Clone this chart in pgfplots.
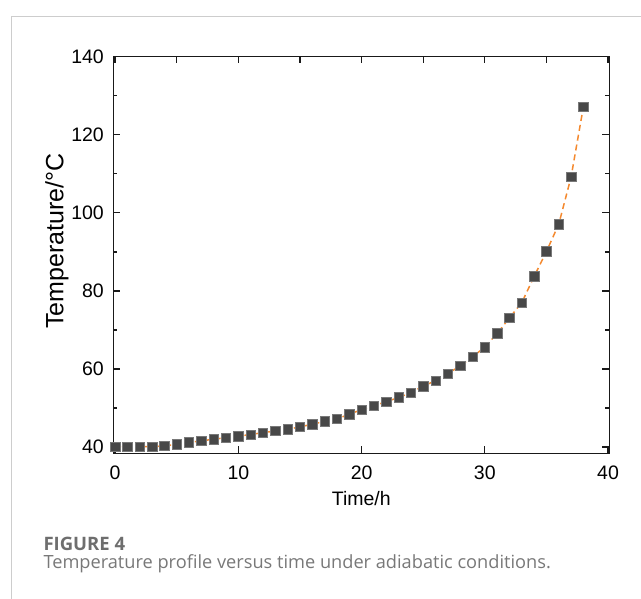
\documentclass[border=0pt]{standalone}
\usepackage{pgfplots}
\pgfplotsset{compat=1.18}
\usepackage{fontspec}
\setmainfont{Liberation Sans}
\newfontfamily\capfont{Open Sans}
\definecolor{framegray}{RGB}{205,205,205}
\definecolor{capgray}{RGB}{110,110,110}
\definecolor{captext}{RGB}{120,120,120}
\definecolor{mkfill}{RGB}{72,72,72}
\definecolor{mkedge}{RGB}{120,120,120}
\definecolor{dashorange}{RGB}{244,137,46}
\pgfplotstableread{
t T
0 40.1
1 40.1
2 40.1
3 40.1
4 40.3
5 40.7
6 41.2
7 41.6
8 42.0
9 42.4
10 42.8
11 43.2
12 43.7
13 44.1
14 44.5
15 45.2
16 45.8
17 46.6
18 47.2
19 48.4
20 49.6
21 50.6
22 51.6
23 52.7
24 53.9
25 55.6
26 57.0
27 58.8
28 60.8
29 63.1
30 65.6
31 69.1
32 73.1
33 77.0
34 83.7
35 90.1
36 97.1
37 109.2
38 127.2
}\datatable
\begin{document}
\begin{tikzpicture}[x=1pt,y=1pt]
\useasboundingbox (0,0) rectangle (641,599);
\draw[framegray, line width=1pt] (11.5,0) -- (11.5,582.5) -- (641,582.5);
\begin{axis}[
  at={(113.3pt,145.7pt)}, anchor=south west,
  scale only axis, width=496pt, height=396.6pt,
  xmin=-0.15, xmax=40.1, ymin=38.4, ymax=140,
  axis line style={line width=1.4pt, black!90},
  tick style={line width=1.3pt, black!90},
  tick align=inside,
  major tick length=7pt, minor tick length=4pt,
  xtick={0,10,20,30,40}, xtick pos=left,
  ytick={40,60,80,100,120,140}, minor ytick={50,70,90,110,130},
  ytick pos=both,
  /pgf/number format/assume math mode=true,
  tick label style={font=\fontsize{19.5}{22}\selectfont},
  xticklabel style={anchor=base, yshift=-26.7pt},
  yticklabel style={anchor=east, inner sep=0pt, xshift=-9.3pt},
  xlabel={Time/h},
  xlabel style={at={(axis description cs:0.5,-0.1304)}, anchor=base, font=\fontsize{19.5}{22}\selectfont},
  ylabel={Temperature/\textdegree C},
  ylabel style={at={(axis description cs:-0.1008,0.535)}, anchor=base, font=\fontsize{25}{28}\selectfont},
  clip=false,
]
\addplot[dashorange, line width=1.5pt, dash pattern=on 6pt off 4pt] table[x=t,y=T] {\datatable};
\addplot[only marks, mark=square*, mark size=4.7pt, mark options={fill=mkfill, draw=mkedge, line width=0.6pt}] table[x=t,y=T] {\datatable};
\end{axis}
\begin{axis}[
  at={(113.3pt,145.7pt)}, anchor=south west,
  scale only axis, width=496pt, height=396.6pt,
  xmin=-0.15, xmax=40.1, ymin=38.4, ymax=140,
  axis x line*=top, axis y line=none,
  axis line style={draw=none},
  tick style={line width=1.3pt, black!90},
  tick align=inside, major tick length=6pt,
  xtick={0,5,...,40}, xticklabels={},
]
\end{axis}
\node[anchor=base west, font=\capfont\bfseries\fontsize{18.5}{22}\selectfont, text=capgray, inner sep=0pt] at (43.3,48) {FIGURE 4};
\node[anchor=base west, font=\capfont\fontsize{18.2}{22}\selectfont, text=captext, inner sep=0pt] at (43.3,30.7) {Temperature profile versus time under adiabatic conditions.};
\end{tikzpicture}
\end{document}
